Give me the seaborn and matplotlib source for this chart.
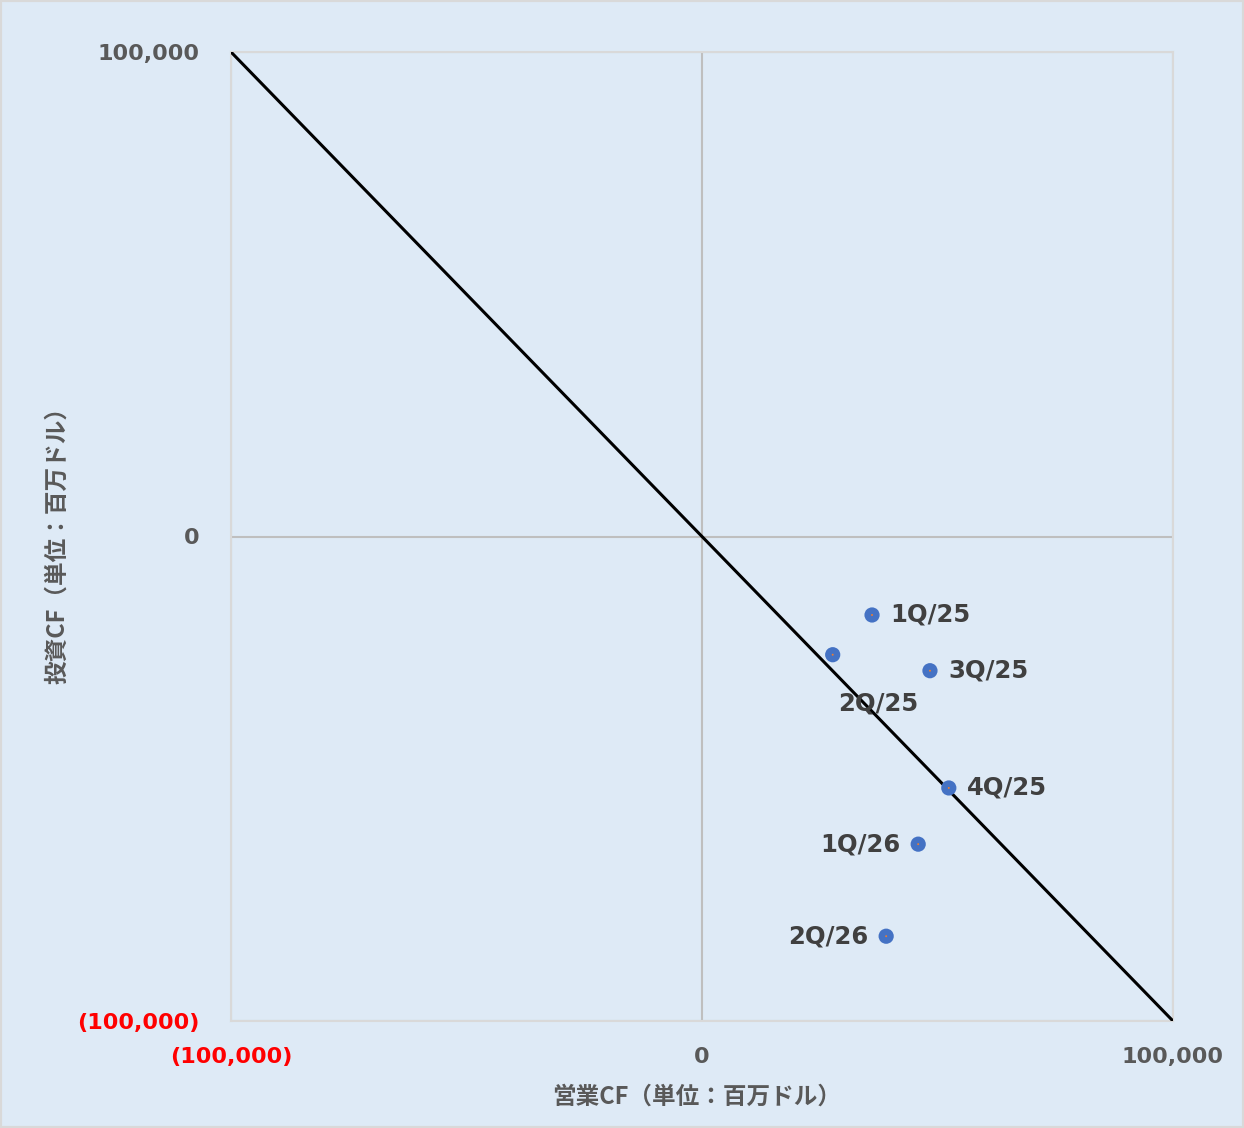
import numpy as np
import pandas as pd
import matplotlib
matplotlib.use("Agg")
import matplotlib.pyplot as plt
import seaborn as sns

# quarterly cash flow (million USD)
quarters = ["1Q/25", "2Q/25", "3Q/25", "4Q/25", "1Q/26", "2Q/26"]
operating_cf = [36100, 27750, 48400, 52400, 45900, 39100]
investing_cf = [-16200, -24400, -27700, -51900, -63500, -82500]

# label offsets in points (dx, dy, ha)
label_pos = {
    "1Q/25": (13, 0, "left"),
    "2Q/25": (33, -35, "center"),
    "3Q/25": (13, 0, "left"),
    "4Q/25": (13, 0, "left"),
    "1Q/26": (-13, 0, "right"),
    "2Q/26": (-13, 0, "right"),
}

# break-even line (operating + investing = 0)
line_x = [-100000, 100000]
line_y = [100000, -100000]

ticks = [-100000, 0, 100000]
tick_labels = ["(100,000)", "0", "100,000"]

bg = "#deeaf6"
sns.set_theme(style="white")
plt.rcParams["font.family"] = ["DejaVu Sans", "Noto Sans CJK JP"]

df = pd.DataFrame({"op": operating_cf, "inv": investing_cf, "q": quarters})

fig = plt.figure(figsize=(12.44, 11.28), dpi=100, facecolor=bg)
fig.patches.append(plt.Rectangle((0, 0), 1, 1, transform=fig.transFigure,
                                 fill=False, edgecolor="#d9d9d9", linewidth=3))
ax = fig.add_axes([231 / 1244, 1 - 1021 / 1128, 942 / 1244, 969 / 1128])
ax.set_facecolor(bg)

sns.lineplot(x=line_x, y=line_y, color="black", linewidth=2.2, ax=ax, zorder=3)
sns.scatterplot(data=df, x="op", y="inv", color="#4472c4", s=120, edgecolor="none",
                ax=ax, zorder=4, legend=False)
sns.scatterplot(data=df, x="op", y="inv", color="#ed7d31", s=2, edgecolor="none",
                ax=ax, zorder=5, legend=False)

for q, x, y in zip(quarters, operating_cf, investing_cf):
    dx, dy, ha = label_pos[q]
    ax.annotate(q, (x, y), xytext=(dx, dy), textcoords="offset points",
                ha=ha, va="center", fontsize=17.5, fontweight="bold", color="#404040")

ax.set_xlim(-100000, 100000)
ax.set_ylim(-100000, 100000)
ax.set_xticks(ticks)
ax.set_yticks(ticks)
ax.set_xticklabels(tick_labels)
ax.set_yticklabels(tick_labels)
for lbl in ax.get_xticklabels() + ax.get_yticklabels():
    lbl.set_fontweight("bold")
    lbl.set_fontsize(16)
    lbl.set_color("#ff0000" if lbl.get_text().startswith("(") else "#595959")
ax.tick_params(axis="x", length=0, pad=19)
ax.tick_params(axis="y", length=0, pad=23)

ax.grid(True, color="#bfbfbf", linewidth=1.5)
for s in ax.spines.values():
    s.set_color("#d9d9d9")
    s.set_linewidth(1.5)

jp = ["Noto Sans CJK JP", "DejaVu Sans"]
ax.set_xlabel("営業CF（単位：百万ドル）", family=jp, fontsize=17,
              fontweight="bold", color="#595959", va="center")
ax.set_ylabel("投資CF（単位：百万ドル）", family=jp, fontsize=17,
              fontweight="bold", color="#595959", va="center")
ax.xaxis.set_label_coords((697 - 231) / 942, (1021 - 1097) / 969)
ax.yaxis.set_label_coords((57 - 231) / 942, (1021 - 540) / 969)

fig.savefig("out.png", dpi=100, facecolor=bg)
